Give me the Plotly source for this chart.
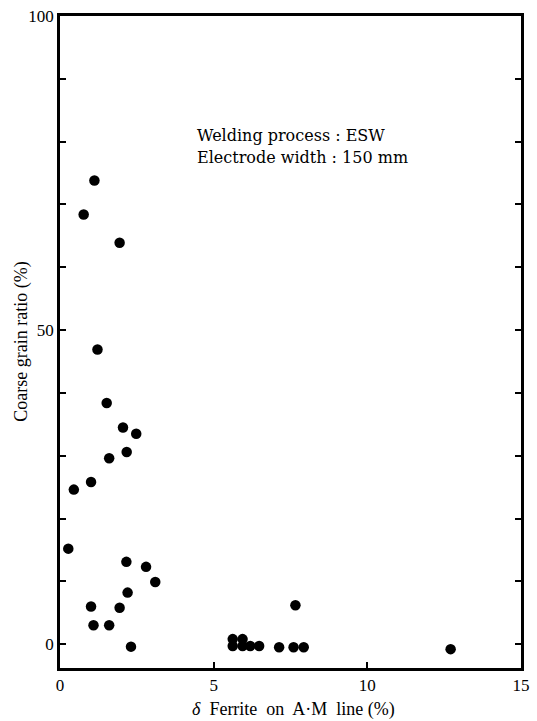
import plotly.graph_objects as go

# Data
ferrite = [1.12, 0.77, 1.94, 1.22, 1.52, 2.05, 2.48, 2.17, 1.60, 1.01, 0.45,
           0.27, 2.16, 2.80, 3.10, 2.20, 1.01, 1.94, 1.09, 1.60, 2.31,
           5.62, 5.62, 5.94, 5.94, 6.19, 6.48,
           7.13, 7.66, 7.60, 7.93, 12.71]
coarse = [73.8, 68.4, 63.9, 46.9, 38.4, 34.5, 33.5, 30.6, 29.6, 25.8, 24.6,
          15.2, 13.1, 12.3, 9.9, 8.2, 6.0, 5.8, 3.0, 3.0, -0.4,
          0.8, -0.3, 0.8, -0.3, -0.3, -0.3,
          -0.5, 6.2, -0.5, -0.5, -0.8]

x_ticks = [0, 5, 10, 15]
y_ticks = [0, 50, 100]
note_lines = ["Welding process : ESW", "Electrode width : 150 mm"]
note_y = [80.9, 77.4]

FONT = "Liberation Serif"
NOTE_FONT = "DejaVu Serif"

fig = go.Figure()
fig.add_trace(go.Scatter(
    x=ferrite, y=coarse, mode="markers",
    marker=dict(color="black", size=10.5),
    showlegend=False, cliponaxis=False,
))

for txt, yy in zip(note_lines, note_y):
    fig.add_annotation(
        x=4.4, y=yy, xref="x", yref="y", text=txt,
        showarrow=False, xanchor="left", yanchor="middle", align="left",
        font=dict(family=NOTE_FONT, size=16, color="black"),
    )

# axis titles as annotations for exact placement
fig.add_annotation(
    x=-0.085, y=0.5, xref="paper", yref="paper",
    text="Coarse grain ratio (%)", textangle=-90,
    showarrow=False, xanchor="center", yanchor="middle",
    font=dict(family=FONT, size=18, color="black"),
)
fig.add_annotation(
    x=0.506, y=-0.064, xref="paper", yref="paper",
    text="<i>δ</i>\u00a0 Ferrite\u00a0 on\u00a0 A·M\u00a0 line (%)",
    showarrow=False, xanchor="center", yanchor="middle",
    font=dict(family=FONT, size=18, color="black"),
)

fig.update_xaxes(
    range=[0, 15], tickvals=x_ticks, ticktext=[str(v) for v in x_ticks],
    ticks="inside", ticklen=6, tickwidth=1.5, tickcolor="black",
    showline=True, linewidth=2.5, linecolor="black", mirror=True,
    showgrid=False, zeroline=False,
    tickfont=dict(family=FONT, size=17, color="black"),
)
fig.update_yaxes(
    range=[-3.8, 100], tickvals=y_ticks, ticktext=[str(v) for v in y_ticks],
    ticks="inside", ticklen=6, tickwidth=1.5, tickcolor="black",
    minor=dict(dtick=10, tick0=0, ticks="inside", ticklen=6, tickwidth=1.5, tickcolor="black"),
    showline=True, linewidth=2.5, linecolor="black", mirror="allticks",
    showgrid=False, zeroline=False,
    tickfont=dict(family=FONT, size=17, color="black"),
)

fig.update_layout(
    width=537, height=721,
    margin=dict(l=60, r=7, t=15, b=53),
    paper_bgcolor="white", plot_bgcolor="white",
    font=dict(family=FONT, color="black"),
)

fig.write_html("out.html")
